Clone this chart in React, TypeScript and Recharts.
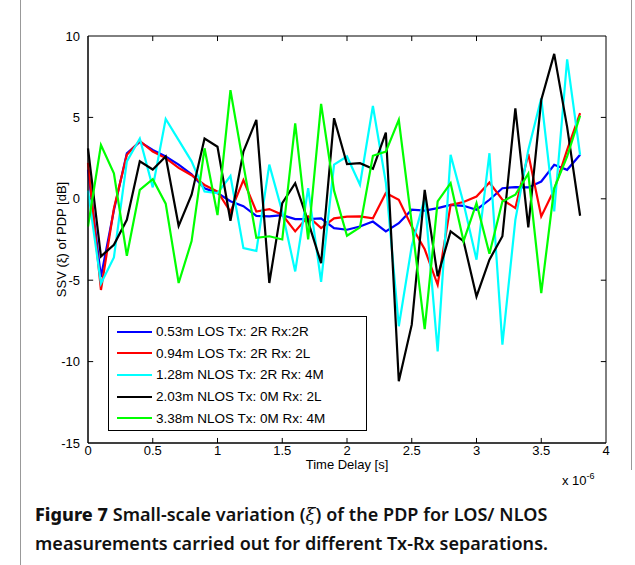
import { LineChart, Line, XAxis, YAxis, Legend, ReferenceArea, ReferenceLine } from "recharts";

// time delay, units of 1e-6 s
const TIME = [
  0, 0.1, 0.2, 0.3, 0.4, 0.5, 0.6, 0.7, 0.8, 0.9, 1, 1.1, 1.2, 1.3, 1.4, 1.5, 1.6, 1.7, 1.8, 1.9,
  2, 2.1, 2.2, 2.3, 2.4, 2.5, 2.6, 2.7, 2.8, 2.9, 3, 3.1, 3.2, 3.3, 3.4, 3.5, 3.6, 3.7, 3.8,
];

const LOS_053 = [
  1.8, -4.8, -0.7, 2.8, 3.5, 3.0, 2.6, 2.1, 1.5, 0.65, 0.35, -0.15, -0.45, -1.05, -1.08, -1.0, -1.25, -1.25, -1.2, -1.8,
  -1.9, -1.7, -1.4, -2.0, -1.5, -0.67, -0.72, -0.57, -0.37, -0.43, -0.67, -0.06, 0.65, 0.72, 0.7, 1.06, 2.09, 1.78, 2.7,
];
const LOS_094 = [
  2.2, -5.6, -0.6, 2.7, 3.55, 2.9, 2.5, 1.9, 1.45, 0.85, 0.45, -0.8, 1.15, -0.78, -0.63, -0.98, -2.0, -1.08, -1.8, -1.2,
  -1.1, -1.08, -1.2, 0.35, -0.06, -1.7, -3.1, -5.28, -0.37, -0.2, 0.14, 1.0, -0.05, -0.57, 2.75, -1.08, 0.55, 3.0, 5.26,
];
const NLOS_128 = [
  0.5, -5.2, -3.6, 2.3, 3.7, 0.7, 4.9, 3.6, 2.3, 0.45, 0.35, 1.4, -3.03, -3.2, 2.1, -0.8, -4.46, 0.65, -5.1, 2.1,
  2.6, 0.86, 5.7, 1.0, -7.83, -2.9, 0.04, -9.37, 2.7, -0.27, -3.74, 2.8, -8.96, -1.29, 3.0, 6.18, -0.78, 8.57, 2.7,
];
const NLOS_203 = [
  3.1, -3.54, -2.82, -1.29, 2.3, 1.8, 2.6, -1.66, 0.25, 3.7, 3.2, -1.35, 2.9, 4.85, -5.17, -0.27, 0.96, -1.4, -3.95, 4.95,
  2.13, 2.19, 1.84, 4.07, -11.2, -7.73, 0.55, -4.76, -2.0, -2.6, -6.0, -3.74, -2.3, 5.56, -1.75, 6.07, 8.9, 4.4, -1.04,
];
const NLOS_338 = [
  -1.7, 3.3, 1.57, -3.5, 0.55, 1.2, -0.3, -5.17, -2.6, 3.1, -1.0, 6.67, 2.1, -2.4, -2.3, -2.5, 4.64, -2.5, 5.83, 0.5,
  -2.27, -1.76, 2.64, 2.9, 4.85, -1.5, -8.0, -0.16, 0.96, -2.6, -0.27, -3.37, -0.16, 0.25, 1.55, -5.79, 0.65, 2.6, 5.1,
];

const SERIES_NAMES = [
  "0.53m LOS Tx: 2R Rx:2R",
  "0.94m LOS Tx: 2R Rx: 2L",
  "1.28m NLOS Tx: 2R Rx: 4M",
  "2.03m NLOS Tx: 0M Rx: 2L",
  "3.38m NLOS Tx: 0M Rx: 4M",
];
const COLORS = ["#0000ff", "#ff0000", "#00ffff", "#000000", "#00ff00"];

const X_TICKS = [0, 0.5, 1, 1.5, 2, 2.5, 3, 3.5, 4];
const Y_TICKS = [-15, -10, -5, 0, 5, 10];
const X_MIN = 0, X_MAX = 4, Y_MIN = -15, Y_MAX = 10;
// inward tick length, in axis units (about 5 px)
const XT = 0.04, YT = 0.31;

const SERIES = [LOS_053, LOS_094, NLOS_128, NLOS_203, NLOS_338];
const data = TIME.map((t, i) => {
  const row: Record<string, number> = { t };
  SERIES.forEach((s, k) => (row["s" + k] = s[i]));
  return row;
});

const FONT = "'Liberation Sans', Arial, Helvetica, sans-serif";
const tickStyle = { fill: "#000", fontSize: 13, fontFamily: FONT };

const LegendBox = ({ payload }: any) => (
  <div
    style={{
      border: "1px solid #000",
      background: "#fff",
      width: 257,
      height: 109,
      boxSizing: "content-box",
      padding: "4px 0 0 0",
      fontFamily: FONT,
      fontSize: 13.5,
      color: "#000",
    }}
  >
    {(payload || [])
      .filter((p: any) => SERIES_NAMES.includes(p.value))
      .map((p: any) => (
        <div key={p.value} style={{ display: "flex", alignItems: "center", height: 21.6 }}>
          <div style={{ width: 35, height: 2, background: p.color, marginLeft: 8, marginRight: 4 }} />
          <span style={{ whiteSpace: "nowrap" }}>{p.value}</span>
        </div>
      ))}
  </div>
);

export default function App() {
  return (
    <div style={{ position: "absolute", left: 0, top: 0, width: 635, height: 565, background: "#fff" }}>
      <div style={{ position: "absolute", left: 20, top: 0, width: 1, height: 565, background: "#999" }} />
      <div style={{ position: "absolute", left: 631, top: 0, width: 1, height: 470, background: "#999" }} />
      <LineChart
        width={635}
        height={565}
        data={data}
        margin={{ top: 36, right: 29, bottom: 102, left: 48 }}
        style={{ position: "absolute", left: 0, top: 0 }}
      >
        <XAxis
          dataKey="t"
          type="number"
          domain={[X_MIN, X_MAX]}
          ticks={X_TICKS}
          height={20}
          tickLine={false}
          tickSize={0}
          tickMargin={3}
          tick={tickStyle}
          axisLine={{ stroke: "#000" }}
          label={{
            content: ({ viewBox }: any) => (
              <g fontFamily={FONT} fill="#000">
                <text x={viewBox.x + viewBox.width / 2} y={viewBox.y + 26} textAnchor="middle" fontSize={13}>
                  Time Delay [s]
                </text>
                <text x={viewBox.x + viewBox.width - 44} y={viewBox.y + 42} fontSize={13}>
                  x 10
                  <tspan dy={-6} fontSize={9}>
                    -6
                  </tspan>
                </text>
              </g>
            ),
          }}
        />
        <YAxis
          type="number"
          domain={[Y_MIN, Y_MAX]}
          ticks={Y_TICKS}
          width={40}
          tickLine={false}
          tickSize={0}
          tickMargin={8}
          tick={tickStyle}
          axisLine={{ stroke: "#000" }}
          label={{
            content: ({ viewBox }: any) => (
              <text
                x={0}
                y={0}
                transform={`translate(${viewBox.x + 18}, ${viewBox.y + viewBox.height / 2}) rotate(-90)`}
                textAnchor="middle"
                fontFamily={FONT}
                fontSize={13}
                fill="#000"
              >
                SSV (ξ) of PDP [dB]
              </text>
            ),
          }}
        />
        {/* axes box */}
        <ReferenceArea x1={X_MIN} x2={X_MAX} y1={Y_MIN} y2={Y_MAX} fill="none" stroke="#000" strokeWidth={1} fillOpacity={0} />
        {/* inward ticks on all four sides */}
        {X_TICKS.slice(1, -1).map((v) => (
          <ReferenceLine key={"xb" + v} segment={[{ x: v, y: Y_MIN }, { x: v, y: Y_MIN + YT }]} stroke="#000" />
        ))}
        {X_TICKS.slice(1, -1).map((v) => (
          <ReferenceLine key={"xt" + v} segment={[{ x: v, y: Y_MAX }, { x: v, y: Y_MAX - YT }]} stroke="#000" />
        ))}
        {Y_TICKS.slice(1, -1).map((v) => (
          <ReferenceLine key={"yl" + v} segment={[{ x: X_MIN, y: v }, { x: X_MIN + XT, y: v }]} stroke="#000" />
        ))}
        {Y_TICKS.slice(1, -1).map((v) => (
          <ReferenceLine key={"yr" + v} segment={[{ x: X_MAX, y: v }, { x: X_MAX - XT, y: v }]} stroke="#000" />
        ))}
        {SERIES_NAMES.map((name, k) => (
          <Line
            key={name}
            name={name}
            dataKey={"s" + k}
            type="linear"
            stroke={COLORS[k]}
            strokeWidth={2.2}
            dot={false}
            isAnimationActive={false}
          />
        ))}
        <Legend
          layout="vertical"
          align="center"
          verticalAlign="middle"
          content={<LegendBox />}
          wrapperStyle={{ left: 108, top: 316, width: 259, height: 114 }}
        />
      </LineChart>
      <div
        style={{
          position: "absolute",
          left: 35,
          top: 500,
          fontFamily: "'Noto Sans', 'Open Sans', sans-serif",
          fontSize: 18,
          fontWeight: 600,
          lineHeight: "29px",
          letterSpacing: 0.05,
          color: "#111",
          whiteSpace: "nowrap",
        }}
      >
        <div>
          <span style={{ fontWeight: 800 }}>Figure 7</span> Small-scale variation (<i style={{ fontFamily: "'DejaVu Serif', serif", fontWeight: 400 }}>ξ</i>) of the PDP for LOS/ NLOS
        </div>
        <div>measurements carried out for different Tx-Rx separations.</div>
      </div>
    </div>
  );
}
